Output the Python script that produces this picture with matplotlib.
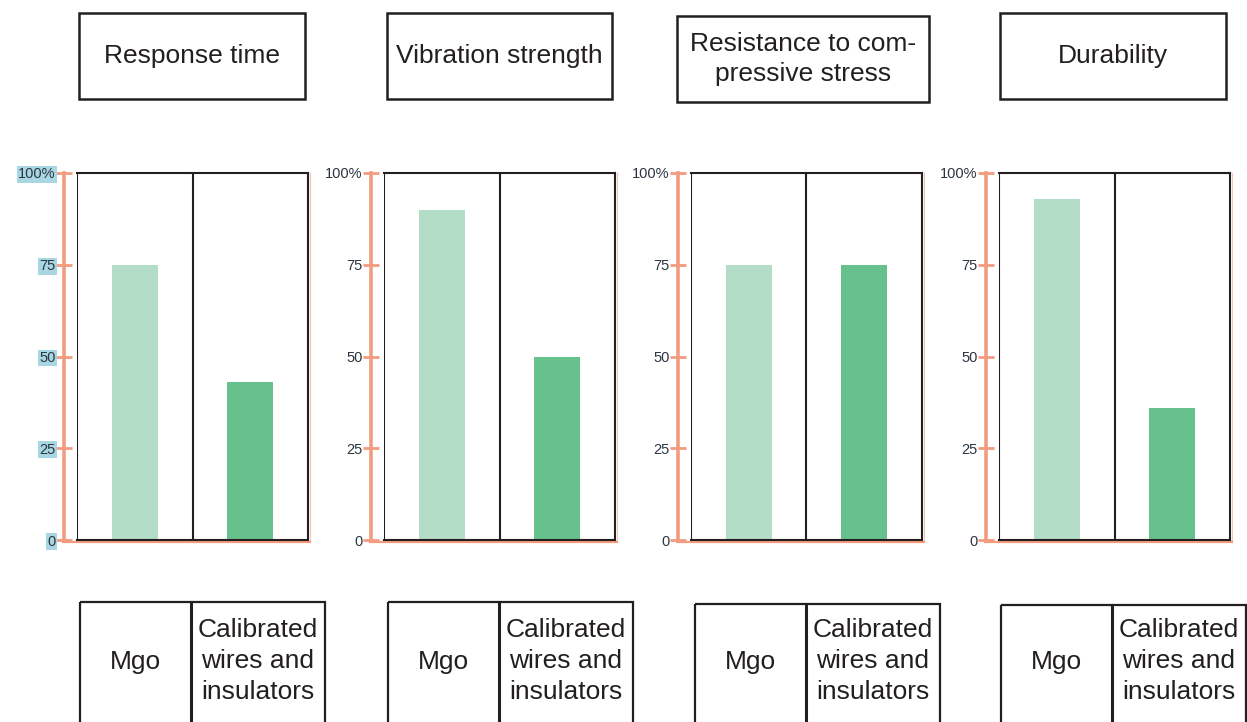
import matplotlib
matplotlib.use("Agg")
import matplotlib.pyplot as plt
from matplotlib.patches import Rectangle
from matplotlib.lines import Line2D

plt.rcParams['font.family'] = ['Liberation Sans', 'DejaVu Sans']

# chart data
categories = ["Response time", "Vibration strength",
              "Resistance to com-\npressive stress", "Durability"]
materials = ["Mgo", "Calibrated\nwires and\ninsulators"]
mgo_values = [75, 90, 75, 93]
wire_values = [43, 50, 75, 36]
tick_values = [0, 25, 50, 75, 100]
tick_labels = ["0", "25", "50", "75", "100%"]

light_green = "#b3ddc6"
dark_green = "#66c18c"
salmon = "#f39b7f"
ink = "#231f20"

W, H = 1247, 722
fig = plt.figure(figsize=(W / 100, H / 100), dpi=100)

# overlay in pixel units for the label boxes
overlay = fig.add_axes([0, 0, 1, 1])
overlay.set_xlim(0, W)
overlay.set_ylim(H, 0)
overlay.axis("off")

title_boxes = [(79, 13, 226, 86), (387, 13, 225, 86),
               (677, 16, 252, 86), (1000, 13, 226, 86)]
bottom_left = [80, 388, 695, 1001]
bottom_top = [602, 602, 604, 605]
panel_left = [77, 384, 691, 999]

for i, cat in enumerate(categories):
    # title box
    bx, by, bw, bh = title_boxes[i]
    overlay.add_patch(Rectangle((bx, by), bw, bh, fill=False,
                                edgecolor=ink, linewidth=1.8))
    overlay.text(bx + bw / 2, by + bh / 2, cat, ha="center", va="center",
                 fontsize=19, color=ink, linespacing=1.3)

    # bottom legend box
    lx, ty = bottom_left[i], bottom_top[i]
    overlay.add_patch(Rectangle((lx, ty), 245, H + 20 - ty, fill=False,
                                edgecolor=ink, linewidth=1.6))
    overlay.plot([lx + 111, lx + 111], [ty, H + 5], color=ink, linewidth=2.2)
    overlay.text(lx + 55.5, 662, materials[0], ha="center", va="center",
                 fontsize=19, color=ink)
    overlay.text(lx + 111 + 67, 661, materials[1], ha="center", va="center",
                 fontsize=19, color=ink, linespacing=1.38)

    # bar panel
    ax = fig.add_axes([panel_left[i] / W, (H - 540) / H, 231 / W, 367 / H])
    ax.bar([0, 1], [mgo_values[i], wire_values[i]], width=0.4,
           color=[light_green, dark_green], zorder=2)
    ax.set_xlim(-0.5, 1.5)
    ax.set_ylim(0, 100)
    ax.set_xticks([])
    ax.set_yticks(tick_values, tick_labels)

    ax.spines["left"].set_position(("outward", 9.5))
    ax.spines["left"].set_color(salmon)
    ax.spines["left"].set_linewidth(2.6)
    for side in ["top", "right", "bottom"]:
        ax.spines[side].set_color(ink)
        ax.spines[side].set_linewidth(1.5)
    ax.axvline(-0.5, color=ink, linewidth=1.5, zorder=3)
    ax.axvline(0.5, color=ink, linewidth=1.5, zorder=3)

    # orange guide under the bottom edge and beside the right edge
    ax.add_line(Line2D([-0.06, 1.01], [-0.006, -0.006], transform=ax.transAxes,
                       color=salmon, linewidth=1.6, clip_on=False, zorder=1))
    ax.add_line(Line2D([1.008, 1.008], [-0.006, 1.0], transform=ax.transAxes,
                       color=salmon, linewidth=0.8, alpha=0.6, clip_on=False))

    ax.tick_params(axis="y", direction="inout", length=11, width=2,
                   color=salmon, labelsize=10.5, labelcolor="#2b3540", pad=0.5)
    if i == 0:
        for lab in ax.get_yticklabels():
            lab.set_bbox(dict(facecolor="#a9d6e3", edgecolor="none", pad=1))

fig.savefig("out.png", dpi=100)
